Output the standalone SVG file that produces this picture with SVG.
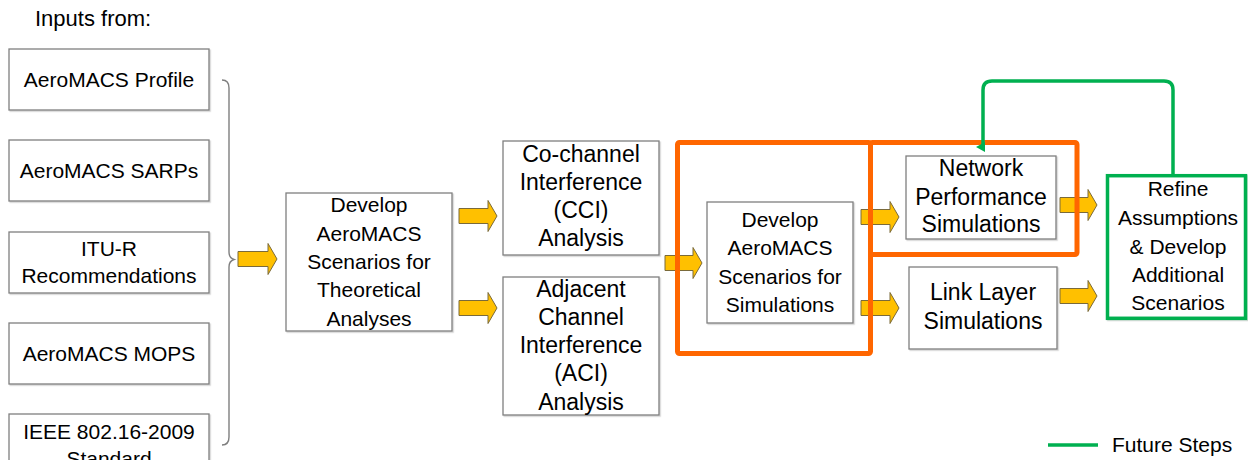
<svg xmlns="http://www.w3.org/2000/svg" width="1248" height="460" viewBox="0 0 1248 460">
  <defs>
    <style>
      .box { fill: #ffffff; stroke: #7f7f7f; stroke-width: 1.3; }
      .cal { font-family: "Liberation Sans", Arial, sans-serif; font-size: 21px; fill: #000; text-anchor: middle; }
      .ari { font-family: "Liberation Sans", Arial, sans-serif; font-size: 23px; fill: #000; text-anchor: middle; }
      .arrow { fill: #FFC000; stroke: #7a6a3a; stroke-width: 1; stroke-linejoin: miter; }
      .orange { fill: none; stroke: #FF6600; stroke-width: 5; stroke-linejoin: round; }
      .green { fill: none; stroke: #00B050; stroke-width: 3.5; }
      .brace { fill: none; stroke: #7f7f7f; stroke-width: 1.4; }
      .shadow { filter: url(#sh); }
    </style>
    <filter id="sh" x="-10%" y="-10%" width="130%" height="130%">
      <feDropShadow dx="1.2" dy="1.2" stdDeviation="0.6" flood-color="#000" flood-opacity="0.18"/>
    </filter>
    <marker id="gArrow" markerWidth="10" markerHeight="10" refX="5" refY="2" orient="auto" markerUnits="userSpaceOnUse" viewBox="0 0 10 10">
      <polygon points="0,0 10,0 5,9" fill="#00B050"/>
    </marker>
  </defs>

  <rect width="1248" height="460" fill="#ffffff"/>

  <text class="cal" x="35" y="26" style="text-anchor:start;font-size:22px">Inputs from:</text>

  <g id="in-profile">
    <rect class="box shadow" x="9" y="49" width="200" height="61"/>
    <text class="cal" x="109" y="87">AeroMACS Profile</text>
  </g>
  <g id="in-sarps">
    <rect class="box shadow" x="9" y="140" width="200" height="61"/>
    <text class="cal" x="109" y="178">AeroMACS SARPs</text>
  </g>
  <g id="in-itur">
    <rect class="box shadow" x="9" y="232" width="200" height="61"/>
    <text class="cal" x="109" y="256">ITU-R</text>
    <text class="cal" x="109" y="283">Recommendations</text>
  </g>
  <g id="in-mops">
    <rect class="box shadow" x="9" y="323" width="200" height="61"/>
    <text class="cal" x="109" y="361">AeroMACS MOPS</text>
  </g>
  <g id="in-ieee">
    <rect class="box shadow" x="9" y="414" width="200" height="62"/>
    <text class="cal" x="109" y="439">IEEE 802.16-2009</text>
    <text class="cal" x="109" y="466">Standard</text>
  </g>

  <g id="theoretical">
    <rect class="box shadow" x="286" y="193" width="166" height="138"/>
    <text class="cal" x="369" y="212">Develop</text>
    <text class="cal" x="369" y="241">AeroMACS</text>
    <text class="cal" x="369" y="269">Scenarios for</text>
    <text class="cal" x="369" y="297">Theoretical</text>
    <text class="cal" x="369" y="326">Analyses</text>
  </g>

  <g id="cci">
    <rect class="box shadow" x="503" y="141" width="156" height="114"/>
    <text class="ari" x="581" y="162">Co-channel</text>
    <text class="ari" x="581" y="190">Interference</text>
    <text class="ari" x="581" y="218">(CCI)</text>
    <text class="ari" x="581" y="246">Analysis</text>
  </g>

  <g id="aci">
    <rect class="box shadow" x="503" y="277" width="156" height="138"/>
    <text class="ari" x="581" y="297">Adjacent</text>
    <text class="ari" x="581" y="325">Channel</text>
    <text class="ari" x="581" y="353">Interference</text>
    <text class="ari" x="581" y="381">(ACI)</text>
    <text class="ari" x="581" y="410">Analysis</text>
  </g>

  <g id="sim-scenarios">
    <rect class="box shadow" x="707" y="202" width="146" height="121"/>
    <text class="cal" x="780" y="227">Develop</text>
    <text class="cal" x="780" y="255">AeroMACS</text>
    <text class="cal" x="780" y="284">Scenarios for</text>
    <text class="cal" x="780" y="312">Simulations</text>
  </g>

  <g id="network">
    <rect class="box shadow" x="906" y="156" width="150" height="83"/>
    <text class="ari" x="981" y="176">Network</text>
    <text class="ari" x="981" y="205">Performance</text>
    <text class="ari" x="981" y="232">Simulations</text>
  </g>

  <g id="link">
    <rect class="box shadow" x="909" y="267" width="148" height="82"/>
    <text class="ari" x="983" y="300">Link Layer</text>
    <text class="ari" x="983" y="329">Simulations</text>
  </g>

  <g id="refine">
    <rect class="shadow" x="1107.5" y="175.7" width="138" height="142.6" fill="#ffffff" stroke="#00B050" stroke-width="3.5"/>
    <text class="cal" x="1178" y="196">Refine</text>
    <text class="cal" x="1178" y="225">Assumptions</text>
    <text class="cal" x="1178" y="254">&amp; Develop</text>
    <text class="cal" x="1178" y="282">Additional</text>
    <text class="cal" x="1178" y="310">Scenarios</text>
  </g>

  <g id="connectors">
    <path class="brace" d="M222,80 Q229,80 229,88 V252 Q229,258 234,259.5 Q229,261 229,267 V437 Q229,445 222,445"/>
    <polygon class="arrow" points="238,251.5 268,251.5 268,243.5 277,259 268,274.5 268,266.5 238,266.5"/>
    <polygon class="arrow" points="459,208.5 488,208.5 488,200.5 497,216 488,231.5 488,223.5 459,223.5"/>
    <polygon class="arrow" points="459,300.5 488,300.5 488,292.5 497,308 488,323.5 488,315.5 459,315.5"/>
    <polygon class="arrow" points="665,255.5 693,255.5 693,247.5 702,263 693,278.5 693,270.5 665,270.5"/>
    <polygon class="arrow" points="861,209.5 890,209.5 890,201.5 899,217 890,232.5 890,224.5 861,224.5"/>
    <polygon class="arrow" points="861,300.5 890,300.5 890,292.5 899,308 890,323.5 890,315.5 861,315.5"/>
    <polygon class="arrow" points="1060,197.5 1088,197.5 1088,189.5 1097,205 1088,220.5 1088,212.5 1060,212.5"/>
    <polygon class="arrow" points="1060,288.5 1088,288.5 1088,280.5 1097,296 1088,311.5 1088,303.5 1060,303.5"/>
    <rect class="orange" x="677.5" y="142.5" width="193" height="211" rx="2"/>
    <rect class="orange" x="870.5" y="142.5" width="206.5" height="112" rx="2"/>
    <path class="green" d="M1173,176 V90 Q1173,81 1164,81 H992 Q983,81 983,90 V147" marker-end="url(#gArrow)"/>
    <line class="green" x1="1048" y1="445" x2="1098" y2="445"/>
  </g>

  <text class="cal" x="1112" y="452" style="text-anchor:start">Future Steps</text>
</svg>
